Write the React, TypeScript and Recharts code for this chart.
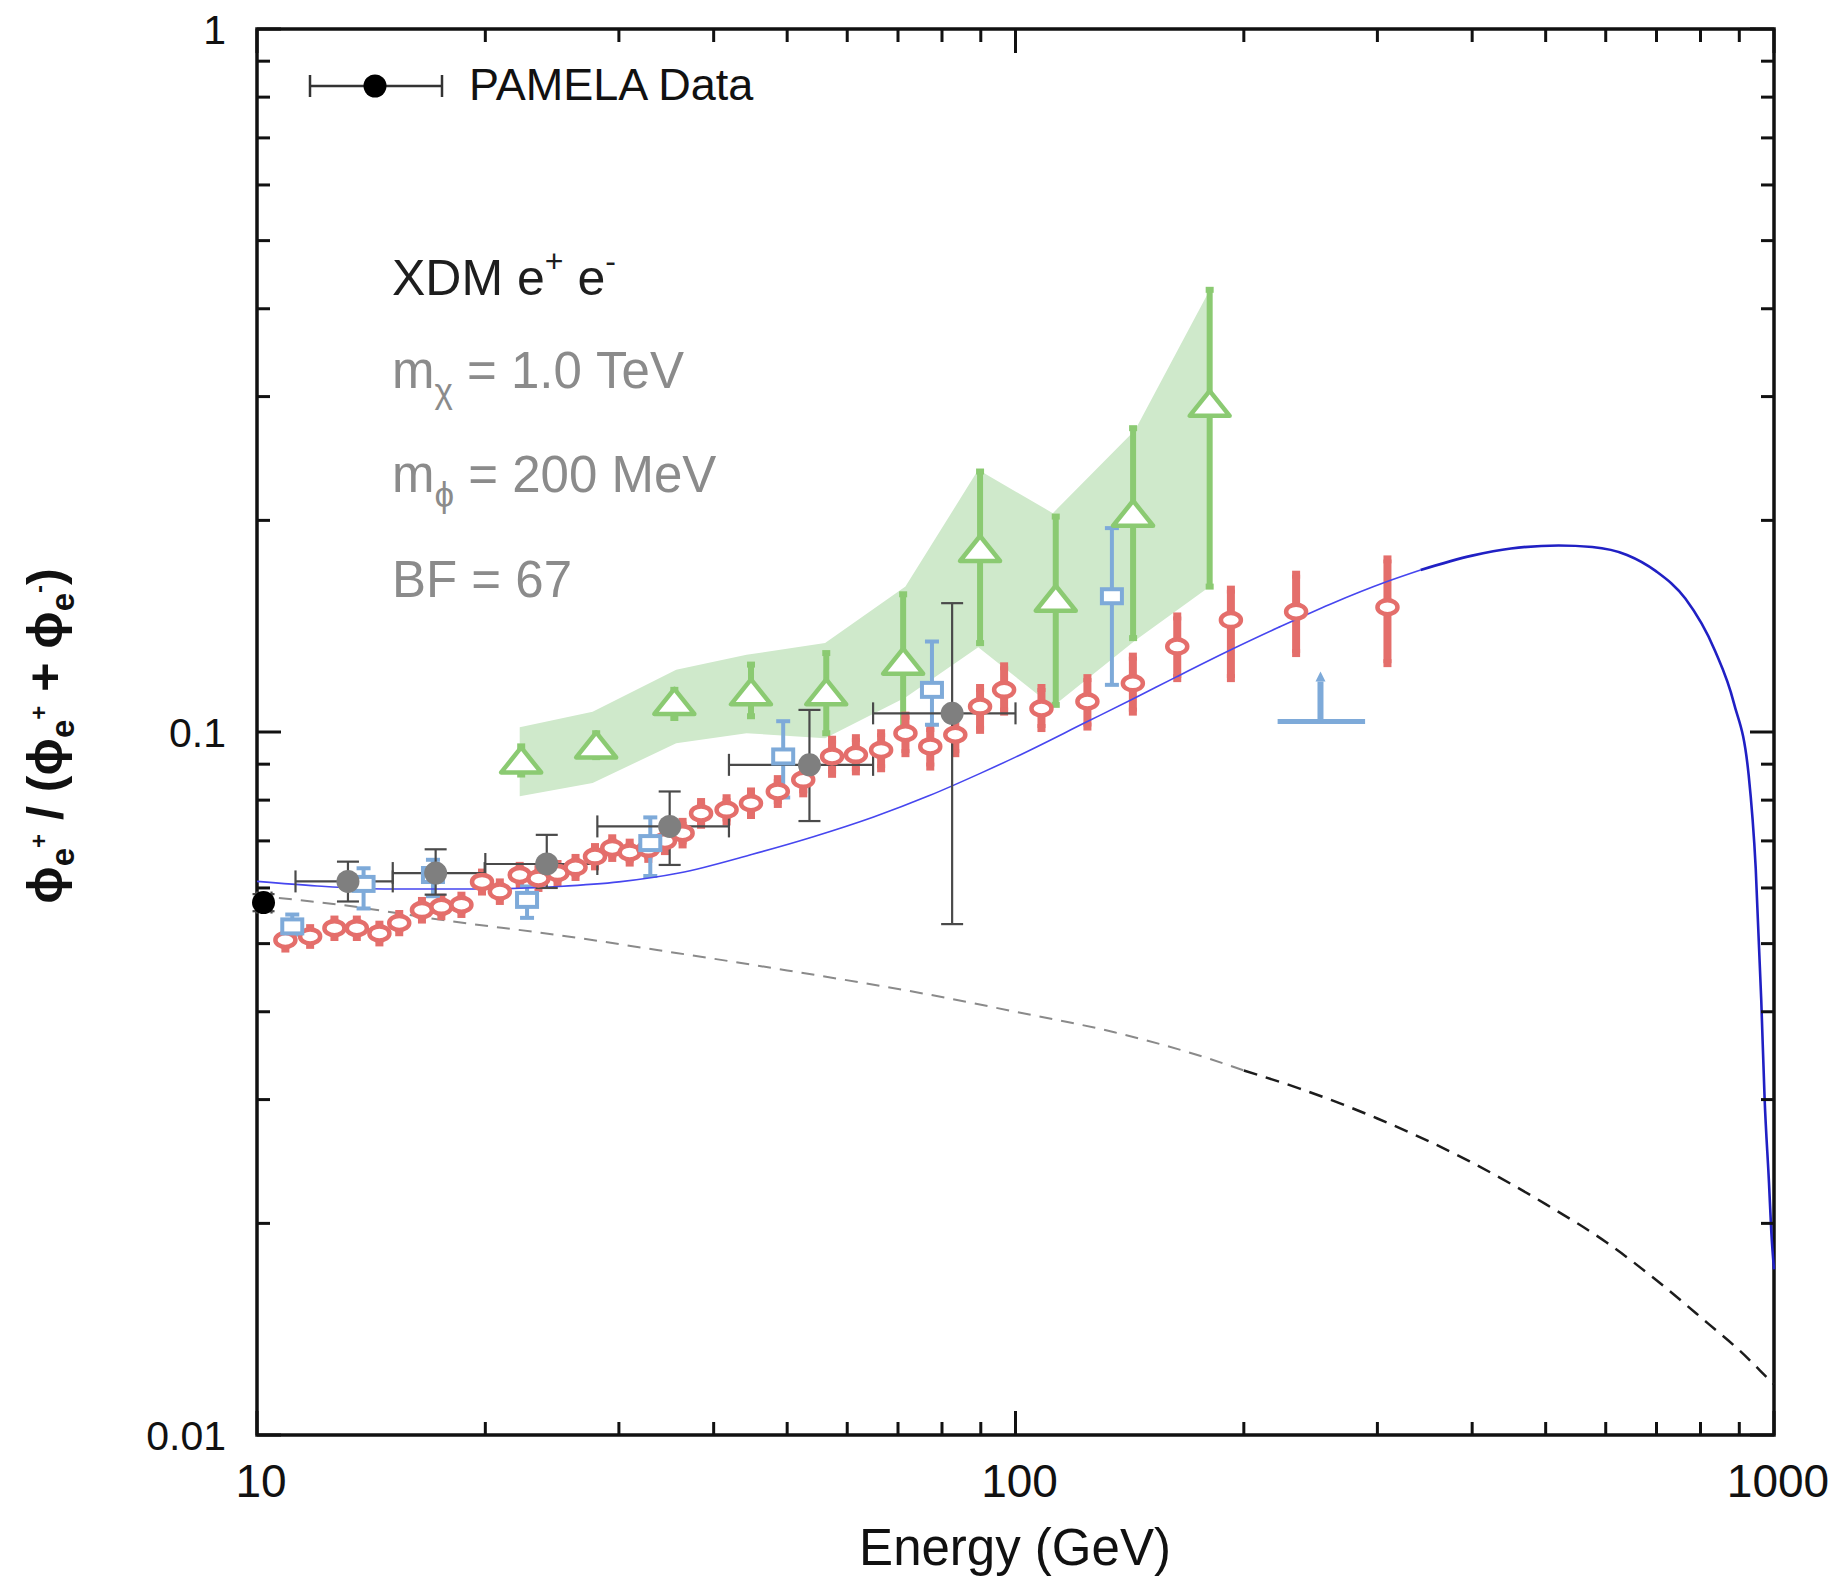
import { ComposedChart, Line, Area, Scatter, XAxis, YAxis, ErrorBar, ReferenceArea, Cell } from 'recharts';

// ---- data -------------------------------------------------------------

// model prediction (signal + background), energy in GeV -> positron fraction
const modelRise: [number, number][] = [
  [10, 0.0613], [12, 0.0604], [15, 0.0598], [20, 0.0598], [25, 0.0603], [30, 0.0612],
  [36, 0.063], [45, 0.067], [54, 0.0709], [65, 0.0757], [77, 0.0812], [90, 0.0874],
  [100, 0.0921], [124, 0.1033], [143, 0.1115], [163, 0.1198], [192, 0.1308], [222, 0.1408],
  [260, 0.152], [309, 0.1637], [342, 0.17],
];
const modelPeak: [number, number][] = [
  [342, 0.17], [400, 0.1782], [450, 0.1824], [520, 0.1842], [576, 0.1833], [640, 0.1786],
  [698, 0.1695], [764, 0.1548], [836, 0.1305], [885, 0.1101], [926, 0.0868], [946, 0.064],
  [962, 0.0416], [972, 0.03], [985, 0.0228], [992, 0.0194], [1000, 0.0172],
];

// secondary-only background
const backgroundLow: [number, number][] = [
  [10, 0.0585], [13, 0.0567], [17.6, 0.054], [25, 0.0514], [35.7, 0.0485], [50, 0.0458],
  [77, 0.0423], [100, 0.04], [135, 0.0374], [180, 0.0343], [200, 0.033],
];
const backgroundHigh: [number, number][] = [
  [200, 0.033], [237, 0.0311], [300, 0.0282], [397, 0.0245], [500, 0.0213], [601, 0.0188],
  [700, 0.0166], [819, 0.0144], [900, 0.0132], [977, 0.0121], [1000, 0.0118],
];

// projected band: [E, low, high]
const projectionBand: [number, number, number][] = [
  [22.2, 0.081, 0.1016], [27.7, 0.0846, 0.1069], [35.7, 0.0964, 0.1226], [44.2, 0.0996, 0.1288],
  [56.1, 0.098, 0.1338], [71.6, 0.112, 0.161], [89.3, 0.132, 0.236], [112, 0.1087, 0.2048],
  [143.8, 0.135, 0.269], [180.4, 0.161, 0.4256],
];

// projected points (triangles): [E, value, low, high]
const projectionPoints: [number, number, number, number][] = [
  [22.3, 0.0908, 0.087, 0.0954], [28.0, 0.0954, 0.0921, 0.0996], [35.5, 0.11, 0.1047, 0.1148],
  [44.8, 0.1135, 0.1053, 0.1247], [56.3, 0.1135, 0.0996, 0.1295], [71.1, 0.1255, 0.0996, 0.157],
  [89.8, 0.1815, 0.1338, 0.2347], [113, 0.1542, 0.1093, 0.2025], [142.9, 0.2037, 0.136, 0.2705],
  [180.3, 0.292, 0.161, 0.4256],
];

// red points: [E, value, low, high]
const redPoints: [number, number, number, number][] = [
  [10.9, 0.0506, 0.0492, 0.052], [11.75, 0.0512, 0.0498, 0.0526], [12.65, 0.0526, 0.0511, 0.0541],
  [13.54, 0.0526, 0.0511, 0.0541], [14.5, 0.0517, 0.0502, 0.0532], [15.4, 0.0535, 0.0519, 0.0551],
  [16.5, 0.0558, 0.0541, 0.0575], [17.5, 0.0564, 0.0547, 0.0581], [18.6, 0.0568, 0.0551, 0.0585],
  [19.8, 0.0612, 0.0593, 0.0631], [20.9, 0.0593, 0.0575, 0.0611], [22.2, 0.0626, 0.0607, 0.0645],
  [23.5, 0.0619, 0.06, 0.0638], [24.9, 0.063, 0.0611, 0.0649], [26.3, 0.0642, 0.0622, 0.0662],
  [27.9, 0.0665, 0.0644, 0.0686], [29.4, 0.0684, 0.0662, 0.0706], [31.0, 0.0674, 0.0652, 0.0696],
  [32.8, 0.0682, 0.066, 0.0704], [34.5, 0.07, 0.0677, 0.0723], [36.4, 0.0718, 0.0692, 0.0745],
  [38.5, 0.0766, 0.0738, 0.0795], [41.6, 0.0775, 0.0746, 0.0805], [44.8, 0.0792, 0.0762, 0.0823],
  [48.6, 0.0823, 0.079, 0.0857], [52.5, 0.0855, 0.0818, 0.0893], [57.3, 0.0923, 0.0872, 0.0975],
  [61.6, 0.0928, 0.0879, 0.098], [66.5, 0.0943, 0.0888, 0.0996], [71.6, 0.0996, 0.0933, 0.1055],
  [77.2, 0.0954, 0.0893, 0.1013], [83.3, 0.0991, 0.0933, 0.1058], [89.8, 0.1087, 0.1007, 0.1155],
  [96.6, 0.1148, 0.1069, 0.124], [108.2, 0.108, 0.1013, 0.1155], [124.4, 0.1105, 0.1018, 0.1193],
  [142.8, 0.1173, 0.1069, 0.128], [163.4, 0.1323, 0.1193, 0.146], [192.3, 0.1443, 0.1193, 0.1594],
  [234.4, 0.1483, 0.1295, 0.1674], [309.3, 0.1505, 0.1253, 0.176],
];

// blue squares: [E, value, low, high]
const bluePoints: [number, number, number, number][] = [
  [11.13, 0.0529, 0.0515, 0.055], [13.82, 0.0608, 0.0561, 0.064], [17.06, 0.0626, 0.0584, 0.0658],
  [22.7, 0.0577, 0.0544, 0.0603], [33.0, 0.0695, 0.0624, 0.0756], [49.4, 0.0923, 0.0807, 0.1036],
  [77.6, 0.1148, 0.1024, 0.1345], [134, 0.156, 0.1167, 0.195],
];
// lower limit: [E, value, E low, E high]
const blueLimit: [number, number, number, number][] = [[252.4, 0.1035, 221.6, 289]];

// PAMELA: [E, value, low, high, E low, E high]
const pamelaPoints: [number, number, number, number, number, number][] = [
  [10.2, 0.0572, 0.0556, 0.0588, 10.0, 10.45],
  [13.18, 0.0613, 0.0574, 0.0654, 11.24, 15.1],
  [17.2, 0.063, 0.0587, 0.0681, 15.1, 19.96],
  [24.1, 0.0649, 0.06, 0.0714, 20.0, 28.1],
  [35.0, 0.0734, 0.0647, 0.0823, 28.1, 41.9],
  [53.5, 0.0898, 0.0747, 0.1075, 41.9, 64.9],
  [82.5, 0.1063, 0.0533, 0.1525, 64.9, 100],
];

const xTicks = [10, 20, 30, 40, 50, 60, 70, 80, 90, 100, 200, 300, 400, 500, 600, 700, 800, 900, 1000];
const xTickLabels: Record<number, string> = { 10: '10', 100: '100', 1000: '1000' };
const yTicks = [0.01, 0.02, 0.03, 0.04, 0.05, 0.06, 0.07, 0.08, 0.09, 0.1, 0.2, 0.3, 0.4, 0.5, 0.6, 0.7, 0.8, 0.9, 1];
const yTickLabels: Record<number, string> = { 0.01: '0.01', 0.1: '0.1', 1: '1' };

// ---- layout -----------------------------------------------------------

const W = 1834;
const H = 1576;
const PLOT = { left: 257, top: 29, right: 1774, bottom: 1435 };
const FONT = "'Liberation Sans', Arial, Helvetica, sans-serif";

const curve = (pts: [number, number][]) => pts.map(([x, y]) => ({ x, y }));
const withErr = (pts: [number, number, number, number][]) =>
  pts.map(([x, y, lo, hi]) => ({ x, y, ey: [y - lo, hi - y] }));

const bandData = projectionBand.map(([x, lo, hi]) => ({ x, band: [lo, hi] }));
const greenData = withErr(projectionPoints);
const redData = withErr(redPoints);
const blueData = withErr(bluePoints);
const limitData = blueLimit.map(([x, y, xl, xh]) => ({ x, y, ex: [x - xl, xh - x] }));
const pamelaData = pamelaPoints.map(([x, y, lo, hi, xl, xh]) => ({
  x, y, ey: [y - lo, hi - y], ex: [x - xl, xh - x],
}));

const RED = '#e46e6b';
const BLUE = '#7eaad9';
const GREEN = '#8bca72';
const GRAY = '#7f7f7f';

// ---- ticks (inward, mirrored on the opposite side) --------------------

function XTick(props: any) {
  const { x, y, payload } = props;
  const label = xTickLabels[payload.value];
  const len = label ? 24 : 13;
  return (
    <g>
      <line x1={x} y1={y} x2={x} y2={y - len} stroke="#111" strokeWidth={3} />
      <line x1={x} y1={PLOT.top} x2={x} y2={PLOT.top + len} stroke="#111" strokeWidth={3} />
      {label && (
        <text x={x + 4} y={y + 62} textAnchor="middle" fontSize={46} fontFamily={FONT} fill="#111">
          {label}
        </text>
      )}
    </g>
  );
}

function YTick(props: any) {
  const { x, y, payload } = props;
  const label = yTickLabels[payload.value];
  const len = label ? 24 : 13;
  return (
    <g>
      <line x1={x} y1={y} x2={x + len} y2={y} stroke="#111" strokeWidth={3} />
      <line x1={PLOT.right} y1={y} x2={PLOT.right - len} y2={y} stroke="#111" strokeWidth={3} />
      {label && (
        <text x={x - 31} y={y + 15} textAnchor="end" fontSize={41} fontFamily={FONT} fill="#111">
          {label}
        </text>
      )}
    </g>
  );
}

// ---- markers ----------------------------------------------------------

const RedMark = (p: any) => (
  <ellipse cx={p.cx} cy={p.cy} rx={10} ry={7} fill="#fff" stroke={RED} strokeWidth={4.5} />
);
const BlueMark = (p: any) => (
  <rect x={p.cx - 10} y={p.cy - 7} width={20} height={14} fill="#fff" stroke={BLUE} strokeWidth={4} />
);
const GreenMark = (p: any) => (
  <polygon
    points={`${p.cx},${p.cy - 14} ${p.cx - 20},${p.cy + 11} ${p.cx + 20},${p.cy + 11}`}
    fill="#fff"
    stroke={GREEN}
    strokeWidth={4.5}
    strokeLinejoin="round"
  />
);
const LimitMark = (p: any) => (
  <g>
    <line x1={p.cx} y1={p.cy} x2={p.cx} y2={p.cy - 40} stroke={BLUE} strokeWidth={6} />
    <polygon points={`${p.cx},${p.cy - 50} ${p.cx - 5},${p.cy - 40} ${p.cx + 5},${p.cy - 40}`} fill={BLUE} />
  </g>
);
const PamelaMark = (p: any) => <circle cx={p.cx} cy={p.cy} r={11.5} fill={p.fill} />;

// ---- chart ------------------------------------------------------------

function PositronFraction() {
  return (
    <ComposedChart
      width={W}
      height={H}
      margin={{ top: PLOT.top, right: W - PLOT.right, bottom: H - PLOT.bottom - 1, left: PLOT.left - 1 }}
    >
      <XAxis
        dataKey="x"
        type="number"
        scale="log"
        domain={[10, 1000]}
        ticks={xTicks}
        interval={0}
        height={1}
        tickSize={0}
        tickMargin={0}
        tickLine={false}
        axisLine={false}
        tick={(p: any) => <XTick {...p} />}
      />
      <YAxis
        dataKey="y"
        type="number"
        scale="log"
        domain={[0.01, 1]}
        ticks={yTicks}
        interval={0}
        width={1}
        tickSize={0}
        tickMargin={0}
        tickLine={false}
        axisLine={false}
        tick={(p: any) => <YTick {...p} />}
      />

      <Area
        data={bandData}
        dataKey="band"
        type="linear"
        stroke="none"
        fill="#cfe9cb"
        fillOpacity={1}
        isAnimationActive={false}
      />

      <Line data={curve(backgroundLow)} dataKey="y" type="monotone" stroke="#8a8a8a" strokeWidth={2}
        strokeDasharray="13 9" dot={false} isAnimationActive={false} />
      <Line data={curve(backgroundHigh)} dataKey="y" type="monotone" stroke="#1c1c1c" strokeWidth={2.5}
        strokeDasharray="14 9" dot={false} isAnimationActive={false} />

      <Scatter data={greenData} shape={<GreenMark />} isAnimationActive={false}>
        <ErrorBar dataKey="ey" direction="y" width={4} stroke={GREEN} strokeWidth={6} isAnimationActive={false} />
      </Scatter>

      <Scatter data={redData} shape={<RedMark />} isAnimationActive={false}>
        <ErrorBar dataKey="ey" direction="y" width={4} stroke={RED} strokeWidth={8} isAnimationActive={false} />
      </Scatter>

      <Scatter data={blueData} shape={<BlueMark />} isAnimationActive={false}>
        <ErrorBar dataKey="ey" direction="y" width={7} stroke={BLUE} strokeWidth={4} isAnimationActive={false} />
      </Scatter>

      <Scatter data={limitData} shape={<LimitMark />} isAnimationActive={false}>
        <ErrorBar dataKey="ex" direction="x" width={0} stroke={BLUE} strokeWidth={5} isAnimationActive={false} />
      </Scatter>

      <Line data={curve(modelRise)} dataKey="y" type="monotone" stroke="#4646ef" strokeWidth={1.6}
        dot={false} isAnimationActive={false} />
      <Line data={curve(modelPeak)} dataKey="y" type="monotone" stroke="#2020c4" strokeWidth={2.6}
        dot={false} isAnimationActive={false} />

      <Scatter data={pamelaData} shape={<PamelaMark />} isAnimationActive={false}>
        {pamelaData.map((_, i) => (
          <Cell key={i} fill={i === 0 ? '#000' : GRAY} />
        ))}
        <ErrorBar dataKey="ex" direction="x" width={11} stroke="#4a4a4a" strokeWidth={2.2} isAnimationActive={false} />
        <ErrorBar dataKey="ey" direction="y" width={11} stroke="#4a4a4a" strokeWidth={2.2} isAnimationActive={false} />
      </Scatter>

      <ReferenceArea x1={10} x2={1000} y1={0.01} y2={1} fill="none" stroke="#111" strokeWidth={3.5}
        ifOverflow="visible" />
    </ComposedChart>
  );
}

// ---- annotations ------------------------------------------------------

function Annotations() {
  const grey = '#8b8b8b';
  return (
    <svg width={W} height={H} style={{ position: 'absolute', left: 0, top: 0, pointerEvents: 'none' }}
      fontFamily={FONT}>
      {/* legend */}
      <line x1={310} y1={86} x2={442} y2={86} stroke="#333" strokeWidth={2.5} />
      <line x1={310} y1={75} x2={310} y2={97} stroke="#333" strokeWidth={2.5} />
      <line x1={442} y1={75} x2={442} y2={97} stroke="#333" strokeWidth={2.5} />
      <circle cx={375} cy={86} r={11.5} fill="#000" />
      <text x={469} y={100} fontSize={45} fill="#111">PAMELA Data</text>

      <text x={392} y={295} fontSize={50} fill="#1e1e1e">
        XDM e<tspan dy={-23} fontSize={32}>+</tspan>
        <tspan dy={23}> e</tspan>
        <tspan dy={-23} fontSize={32}>-</tspan>
      </text>
      <text x={392} y={388} fontSize={51} fill={grey}>
        m<tspan dy={15} fontSize={35}>χ</tspan>
        <tspan dy={-15}> = 1.0 TeV</tspan>
      </text>
      <text x={392} y={492} fontSize={51} fill={grey}>
        m<tspan dy={15} fontSize={35}>ϕ</tspan>
        <tspan dy={-15}> = 200 MeV</tspan>
      </text>
      <text x={392} y={597} fontSize={51} fill={grey}>BF = 67</text>

      {/* axis titles */}
      <text x={1015} y={1565} textAnchor="middle" fontSize={51} fill="#111">Energy (GeV)</text>
      <text transform="translate(62,736) rotate(-90)" textAnchor="middle" fontSize={50} fontWeight="bold"
        fill="#111">
        ϕ<tspan dy={12} fontSize={33}>e</tspan>
        <tspan dy={-27} fontSize={24}>+</tspan>
        <tspan dy={15} fontSize={50}> / (ϕ</tspan>
        <tspan dy={12} fontSize={33}>e</tspan>
        <tspan dy={-27} fontSize={24}>+</tspan>
        <tspan dy={15} fontSize={50}> + ϕ</tspan>
        <tspan dy={12} fontSize={33}>e</tspan>
        <tspan dy={-27} fontSize={24}>-</tspan>
        <tspan dy={15} fontSize={50}>)</tspan>
      </text>
    </svg>
  );
}

export default function App() {
  return (
    <div style={{ position: 'absolute', left: 0, top: 0, width: W, height: H, background: '#fff' }}>
      <PositronFraction />
      <Annotations />
    </div>
  );
}
